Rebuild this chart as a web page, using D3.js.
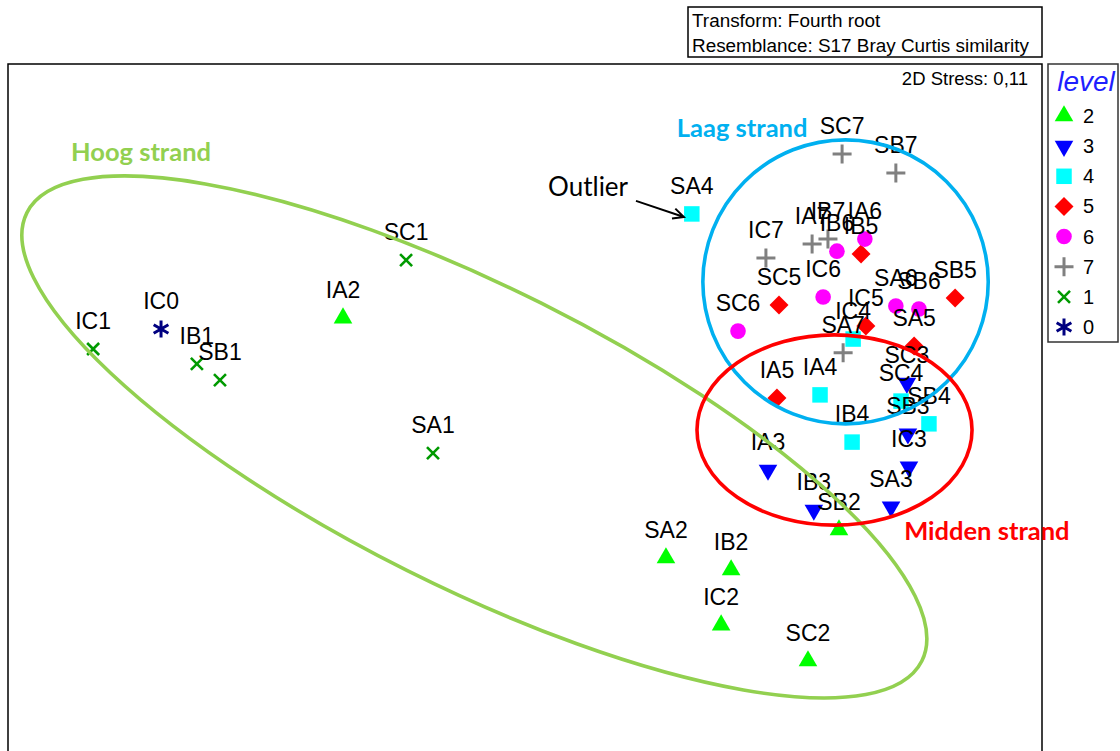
<!DOCTYPE html>
<html>
<head>
<meta charset="utf-8">
<script src="https://cdn.jsdelivr.net/npm/d3@7"></script>
<style>
  body { margin: 0; background: #fff; }
  svg { display: block; }
</style>
</head>
<body>
<script>
// nMDS ordination (fourth-root, Bray-Curtis) of beach samples, symbol = level
const sampleNames = [
  "IC0",
  "IC1", "IB1", "SB1", "SC1", "SA1",
  "IA2", "SA2", "IB2", "IC2", "SC2", "SB2",
  "SC3", "SB3", "IC3", "SA3", "IA3", "IB3",
  "SA4", "IA4", "IB4", "SC4", "SB4", "IC4",
  "IB5", "SC5", "IA5", "SB5", "IC5", "SA5",
  "SC6", "IC6", "IB6", "IA6", "SA6", "SB6",
  "SC7", "SB7", "IC7", "IA7", "IB7", "SA7"
];
const mdsX = [
  -1.056,
  -1.253, -0.952, -0.885, -0.345, -0.267,
  -0.528, 0.409, 0.598, 0.569, 0.821, 0.911,
  1.108, 1.111, 1.114, 1.062, 0.705, 0.838,
  0.484, 0.856, 0.949, 1.091, 1.172, 0.952,
  0.975, 0.737, 0.731, 1.248, 0.989, 1.129,
  0.618, 0.865, 0.905, 0.986, 1.076, 1.143,
  0.920, 1.076, 0.699, 0.833, 0.879, 0.923
];
const mdsY = [
  0.231,
  0.173, 0.130, 0.083, 0.431, -0.129,
  0.263, -0.433, -0.468, -0.628, -0.732, -0.352,
  0.074, -0.073, -0.169, -0.285, -0.178, -0.294,
  0.565, 0.040, -0.097, 0.022, -0.044, 0.202,
  0.449, 0.301, 0.031, 0.321, 0.240, 0.182,
  0.225, 0.324, 0.457, 0.492, 0.298, 0.289,
  0.739, 0.684, 0.437, 0.478, 0.492, 0.162
];
const sampleLevel = [
  "0",
  "1", "1", "1", "1", "1",
  "2", "2", "2", "2", "2", "2",
  "3", "3", "3", "3", "3", "3",
  "4", "4", "4", "4", "4", "4",
  "5", "5", "5", "5", "5", "5",
  "6", "6", "6", "6", "6", "6",
  "7", "7", "7", "7", "7", "7"
];
const legendLevels = ["2", "3", "4", "5", "6", "7", "1", "0"];

// beach zones drawn as ellipses around the sample groups
const zoneNames  = ["Hoog strand", "Laag strand", "Midden strand"];
const zoneCx     = [-0.147, 0.930, 0.898];
const zoneCy     = [-0.082, 0.368, -0.062];
const zoneRx     = [1.452, 0.414, 0.399];
const zoneRy     = [0.434, 0.412, 0.276];
const zoneAngle  = [26.6, 0, 0];
const zoneLabelX = [-1.114, 0.630, 1.340];
const zoneLabelY = [0.745, 0.814, -0.355];
const zoneColor  = ["#92D050", "#00B0F0", "#FF0000"];

// outlier annotation
const outlierText = "Outlier";
const outlierLabel = [0.183, 0.643];
const outlierArrowFrom = [0.322, 0.603];
const outlierArrowTo = [0.461, 0.556];

const infoLines = ["Transform: Fourth root", "Resemblance: S17 Bray Curtis similarity"];
const stressText = "2D Stress: 0,11";
const legendTitle = "level";

const W = 1120, H = 751;
const frame = { left: 8, top: 64, right: 1042 };
const unit = (frame.right - frame.left) / 3;

const x = d3.scaleLinear().domain([-1.5, 1.5]).range([frame.left, frame.right]);
const y = d3.scaleLinear().domain([1.0, -1.05]).range([frame.top, frame.top + 2.05 * unit]);

const svg = d3.select("body").append("svg")
  .attr("width", W).attr("height", H)
  .style("font-family", "'Liberation Sans', Arial, sans-serif");

// ---------- symbols ----------
const styleByLevel = {
  "2": { type: "triUp",   color: "#00FF00" },
  "3": { type: "triDown", color: "#0000FF" },
  "4": { type: "square",  color: "#00FFFF" },
  "5": { type: "diamond", color: "#FF0000" },
  "6": { type: "circle",  color: "#FF00FF" },
  "7": { type: "plus",    color: "#808080" },
  "1": { type: "cross",   color: "#009A00" },
  "0": { type: "star",    color: "#000080" }
};

function drawSymbol(g, level) {
  const s = styleByLevel[level];
  if (s.type === "triUp") {
    g.append("path").attr("d", d3.symbol(d3.symbolTriangle, 150)()).attr("fill", s.color);
  } else if (s.type === "triDown") {
    g.append("path").attr("d", d3.symbol(d3.symbolTriangle, 150)())
      .attr("transform", "rotate(180)").attr("fill", s.color);
  } else if (s.type === "square") {
    g.append("path").attr("d", d3.symbol(d3.symbolSquare, 240)()).attr("fill", s.color);
  } else if (s.type === "diamond") {
    g.append("path").attr("d", d3.symbol(d3.symbolSquare, 180)())
      .attr("transform", "rotate(45)").attr("fill", s.color);
  } else if (s.type === "circle") {
    g.append("circle").attr("r", 7.8).attr("fill", s.color);
  } else if (s.type === "plus") {
    g.append("path").attr("d", "M-9.5,0H9.5M0,-9.5V9.5")
      .attr("stroke", s.color).attr("stroke-width", 3).attr("fill", "none");
  } else if (s.type === "cross") {
    g.append("path").attr("d", "M-6,-6L6,6M-6,6L6,-6")
      .attr("stroke", s.color).attr("stroke-width", 2.6).attr("fill", "none");
  } else if (s.type === "star") {
    const r = 8.5, c = Math.cos(Math.PI / 6) * r, h = Math.sin(Math.PI / 6) * r;
    g.append("path").attr("d", `M0,${-r}V${r}M${-c},${-h}L${c},${h}M${-c},${h}L${c},${-h}`)
      .attr("stroke", s.color).attr("stroke-width", 3).attr("fill", "none");
  }
}

// ---------- plot frame ----------
svg.append("path")
  .attr("d", `M${frame.left},${H + 5}V${frame.top}H${frame.right}V${H + 5}`)
  .attr("fill", "none").attr("stroke", "#000").attr("stroke-width", 1.5);

// ---------- sample points & labels ----------
const pts = svg.append("g");
sampleNames.forEach((name, i) => {
  const g = pts.append("g").attr("transform", `translate(${x(mdsX[i])},${y(mdsY[i])})`);
  drawSymbol(g, sampleLevel[i]);
});
sampleNames.forEach((name, i) => {
  pts.append("text")
    .attr("x", x(mdsX[i])).attr("y", y(mdsY[i]) - 20)
    .attr("text-anchor", "middle")
    .attr("font-size", 23)
    .attr("fill", "#000")
    .text(name);
});

// ---------- zone ellipses ----------
const zones = svg.append("g");
zoneNames.forEach((name, i) => {
  zones.append("ellipse")
    .attr("transform", `translate(${x(zoneCx[i])},${y(zoneCy[i])}) rotate(${zoneAngle[i]})`)
    .attr("rx", x(zoneRx[i]) - x(0)).attr("ry", x(zoneRy[i]) - x(0))
    .attr("fill", "none").attr("stroke", zoneColor[i]).attr("stroke-width", 3.6);
});
zoneNames.forEach((name, i) => {
  zones.append("text")
    .attr("x", x(zoneLabelX[i])).attr("y", y(zoneLabelY[i]))
    .attr("dy", "0.35em")
    .attr("text-anchor", "middle")
    .attr("font-family", "Lato, 'Open Sans', sans-serif")
    .attr("font-weight", "bold")
    .attr("font-size", 25.5)
    .attr("fill", zoneColor[i])
    .text(name);
});

// ---------- outlier note ----------
svg.append("text")
  .attr("x", x(outlierLabel[0])).attr("y", y(outlierLabel[1]))
  .attr("dy", "0.35em").attr("text-anchor", "middle")
  .attr("font-family", "Lato, 'Open Sans', sans-serif")
  .attr("font-size", 26).attr("fill", "#000")
  .text(outlierText);
{
  const x0 = x(outlierArrowFrom[0]), y0 = y(outlierArrowFrom[1]);
  const x1 = x(outlierArrowTo[0]), y1 = y(outlierArrowTo[1]);
  const ang = Math.atan2(y1 - y0, x1 - x0), len = 12, spread = 0.45;
  const a1 = [x1 - len * Math.cos(ang - spread), y1 - len * Math.sin(ang - spread)];
  const a2 = [x1 - len * Math.cos(ang + spread), y1 - len * Math.sin(ang + spread)];
  svg.append("path")
    .attr("d", `M${x0},${y0}L${x1},${y1}M${a1[0]},${a1[1]}L${x1},${y1}L${a2[0]},${a2[1]}`)
    .attr("fill", "none").attr("stroke", "#000").attr("stroke-width", 2);
}

// ---------- stress ----------
svg.append("text")
  .attr("x", 1028).attr("y", 85)
  .attr("text-anchor", "end").attr("font-size", 18.5).attr("fill", "#000")
  .text(stressText);

// ---------- info box ----------
svg.append("rect")
  .attr("x", 688).attr("y", 7).attr("width", 354).attr("height", 50)
  .attr("fill", "#fff").attr("stroke", "#000").attr("stroke-width", 1.5);
infoLines.forEach((t, i) => {
  svg.append("text")
    .attr("x", 692).attr("y", 27 + i * 25)
    .attr("font-size", 18.9).attr("fill", "#000")
    .text(t);
});

// ---------- legend ----------
const lg = svg.append("g");
lg.append("rect")
  .attr("x", 1048).attr("y", 64).attr("width", 70).attr("height", 278)
  .attr("fill", "#fff").attr("stroke", "#333").attr("stroke-width", 1.5);
lg.append("text")
  .attr("x", 1086).attr("y", 91)
  .attr("text-anchor", "middle")
  .attr("font-style", "italic").attr("font-size", 28).attr("fill", "#1F1FFF")
  .text(legendTitle);
const rowY = d3.scalePoint().domain(legendLevels).range([116, 327]);
legendLevels.forEach(lv => {
  const g = lg.append("g").attr("transform", `translate(1064,${rowY(lv)})`);
  drawSymbol(g, lv);
  lg.append("text")
    .attr("x", 1083).attr("y", rowY(lv) + 7)
    .attr("font-size", 20).attr("fill", "#000")
    .text(lv);
});
</script>
</body>
</html>
